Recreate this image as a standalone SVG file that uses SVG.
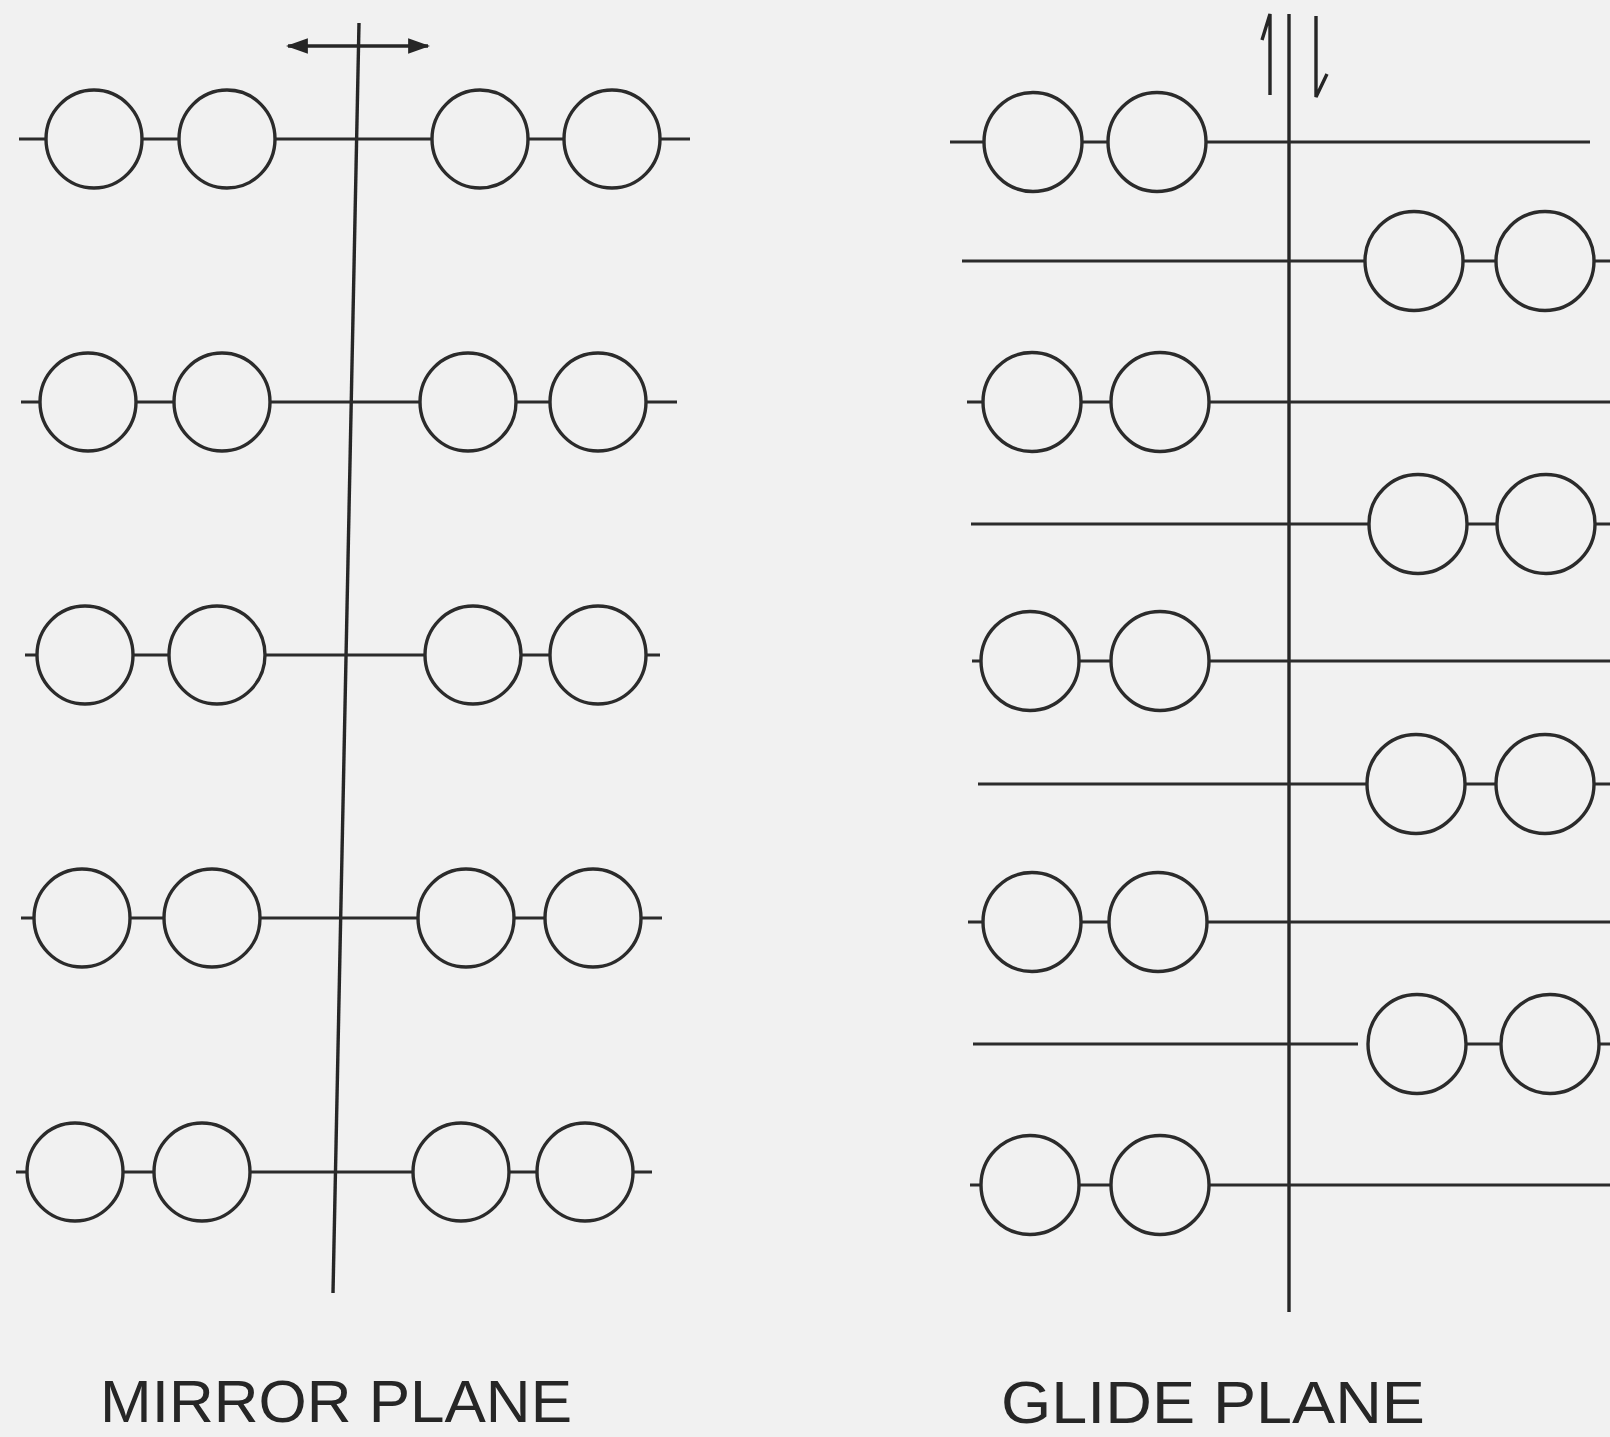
<svg xmlns="http://www.w3.org/2000/svg" width="1610" height="1437" viewBox="0 0 1610 1437">
  <defs>
    <style>
      .bg { fill: #f1f1f1; }
      .atom { fill: none; stroke: #2b2b2b; stroke-width: 3.4; }
      .bond { stroke: #2b2b2b; stroke-width: 3.2; fill: none; stroke-linecap: butt; }
      .plane { stroke: #262626; stroke-width: 3.4; fill: none; }
      .label { font-family: "Liberation Sans", Arial, sans-serif; font-size: 60px; fill: #262626; }
    </style>
    <marker id="ah" viewBox="0 0 10 10" refX="9" refY="5" markerWidth="6.5" markerHeight="6.5" orient="auto-start-reverse" markerUnits="strokeWidth">
      <path d="M0,1.5 L10,5 L0,8.5 Z" fill="#262626"/>
    </marker>
  </defs>
  <rect class="bg" x="0" y="0" width="1610" height="1437"/>

  <!-- Connectors: planes, arrows and bonds -->
  <g id="connectors">
    <!-- mirror plane -->
    <line class="plane" x1="359" y1="23" x2="333" y2="1293"/>
    <line class="plane" x1="288" y1="46" x2="428" y2="46" marker-start="url(#ah)" marker-end="url(#ah)"/>
    <!-- glide plane -->
    <line class="plane" x1="1289" y1="14" x2="1289" y2="1312"/>
    <path class="plane" d="M1270,95 L1270,14 L1262,40"/>
    <path class="plane" d="M1316,16 L1316,97 L1327,74"/>

    <!-- mirror rows -->
    <path class="bond" d="M19,139H46 M142,139H179 M275,139H432 M528,139H564 M660,139H690"/>
    <path class="bond" d="M21,402H40 M136,402H174 M270,402H420 M516,402H550 M646,402H677"/>
    <path class="bond" d="M25,655H37 M133,655H169 M265,655H425 M521,655H550 M646,655H660"/>
    <path class="bond" d="M21,918H34 M130,918H164 M260,918H418 M514,918H545 M641,918H662"/>
    <path class="bond" d="M16,1172H27 M123,1172H154 M250,1172H413 M509,1172H537 M633,1172H652"/>

    <!-- glide rows -->
    <path class="bond" d="M950,142H984 M1082,142H1108 M1206,142H1590"/>
    <path class="bond" d="M962,261H1365 M1463,261H1496 M1594,261H1610"/>
    <path class="bond" d="M967,402H983 M1081,402H1111 M1209,402H1610"/>
    <path class="bond" d="M971,524H1369 M1467,524H1497 M1595,524H1610"/>
    <path class="bond" d="M972,661H981 M1079,661H1111 M1209,661H1610"/>
    <path class="bond" d="M978,784H1367 M1465,784H1496 M1594,784H1610"/>
    <path class="bond" d="M968,922H983 M1081,922H1109 M1207,922H1610"/>
    <path class="bond" d="M973,1044H1358 M1466,1044H1501 M1599,1044H1610"/>
    <path class="bond" d="M970,1185H981 M1079,1185H1111 M1209,1185H1610"/>
  </g>

  <!-- Mirror plane molecules -->
  <g id="m1l"><ellipse class="atom" cx="94" cy="139" rx="48" ry="49"/><ellipse class="atom" cx="227" cy="139" rx="48" ry="49"/></g>
  <g id="m1r"><ellipse class="atom" cx="480" cy="139" rx="48" ry="49"/><ellipse class="atom" cx="612" cy="139" rx="48" ry="49"/></g>
  <g id="m2l"><ellipse class="atom" cx="88" cy="402" rx="48" ry="49"/><ellipse class="atom" cx="222" cy="402" rx="48" ry="49"/></g>
  <g id="m2r"><ellipse class="atom" cx="468" cy="402" rx="48" ry="49"/><ellipse class="atom" cx="598" cy="402" rx="48" ry="49"/></g>
  <g id="m3l"><ellipse class="atom" cx="85" cy="655" rx="48" ry="49"/><ellipse class="atom" cx="217" cy="655" rx="48" ry="49"/></g>
  <g id="m3r"><ellipse class="atom" cx="473" cy="655" rx="48" ry="49"/><ellipse class="atom" cx="598" cy="655" rx="48" ry="49"/></g>
  <g id="m4l"><ellipse class="atom" cx="82" cy="918" rx="48" ry="49"/><ellipse class="atom" cx="212" cy="918" rx="48" ry="49"/></g>
  <g id="m4r"><ellipse class="atom" cx="466" cy="918" rx="48" ry="49"/><ellipse class="atom" cx="593" cy="918" rx="48" ry="49"/></g>
  <g id="m5l"><ellipse class="atom" cx="75" cy="1172" rx="48" ry="49"/><ellipse class="atom" cx="202" cy="1172" rx="48" ry="49"/></g>
  <g id="m5r"><ellipse class="atom" cx="461" cy="1172" rx="48" ry="49"/><ellipse class="atom" cx="585" cy="1172" rx="48" ry="49"/></g>

  <!-- Glide plane molecules -->
  <g id="gA"><ellipse class="atom" cx="1033" cy="142" rx="49" ry="49.5"/><ellipse class="atom" cx="1157" cy="142" rx="49" ry="49.5"/></g>
  <g id="gB"><ellipse class="atom" cx="1414" cy="261" rx="49" ry="49.5"/><ellipse class="atom" cx="1545" cy="261" rx="49" ry="49.5"/></g>
  <g id="gC"><ellipse class="atom" cx="1032" cy="402" rx="49" ry="49.5"/><ellipse class="atom" cx="1160" cy="402" rx="49" ry="49.5"/></g>
  <g id="gD"><ellipse class="atom" cx="1418" cy="524" rx="49" ry="49.5"/><ellipse class="atom" cx="1546" cy="524" rx="49" ry="49.5"/></g>
  <g id="gE"><ellipse class="atom" cx="1030" cy="661" rx="49" ry="49.5"/><ellipse class="atom" cx="1160" cy="661" rx="49" ry="49.5"/></g>
  <g id="gF"><ellipse class="atom" cx="1416" cy="784" rx="49" ry="49.5"/><ellipse class="atom" cx="1545" cy="784" rx="49" ry="49.5"/></g>
  <g id="gG"><ellipse class="atom" cx="1032" cy="922" rx="49" ry="49.5"/><ellipse class="atom" cx="1158" cy="922" rx="49" ry="49.5"/></g>
  <g id="gH"><ellipse class="atom" cx="1417" cy="1044" rx="49" ry="49.5"/><ellipse class="atom" cx="1550" cy="1044" rx="49" ry="49.5"/></g>
  <g id="gI"><ellipse class="atom" cx="1030" cy="1185" rx="49" ry="49.5"/><ellipse class="atom" cx="1160" cy="1185" rx="49" ry="49.5"/></g>

  <g id="labels">
    <text class="label" x="100" y="1422" textLength="472" lengthAdjust="spacingAndGlyphs">MIRROR PLANE</text>
    <text class="label" x="1001" y="1423" textLength="424" lengthAdjust="spacingAndGlyphs">GLIDE PLANE</text>
  </g>
</svg>
